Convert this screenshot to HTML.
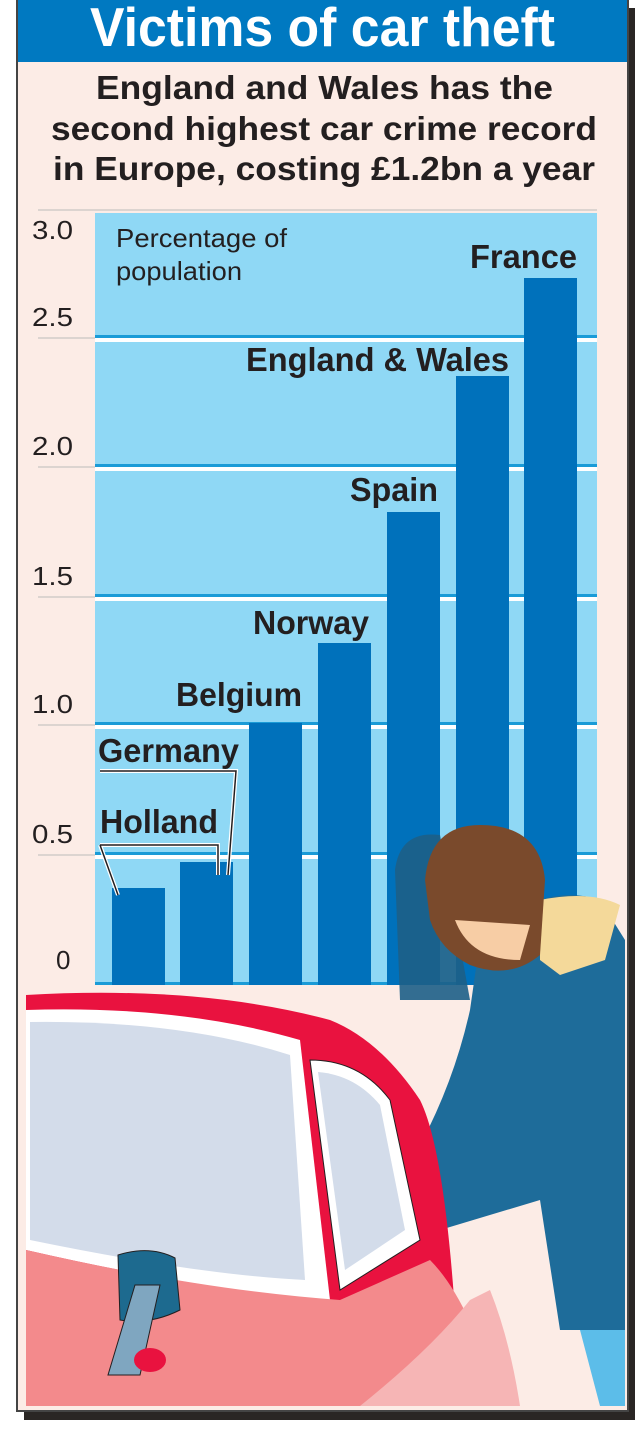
<!DOCTYPE html>
<html><head><meta charset="utf-8"><style>
body{margin:0;background:#fff;width:635px;height:1439px;overflow:hidden;font-family:"Liberation Sans",sans-serif}
</style></head><body>
<svg width="635" height="1439" viewBox="0 0 635 1439" xmlns="http://www.w3.org/2000/svg" font-family="Liberation Sans, sans-serif">
<rect x="24" y="8" width="611" height="1412" fill="#2a2624"/>
<rect x="17" y="0" width="611" height="1411" fill="#fcece6" stroke="#444" stroke-width="2"/>
<rect x="18" y="0" width="609" height="62" fill="#0079c1"/>
<text x="90" y="46" font-size="55" font-weight="bold" fill="#fff" textLength="465" lengthAdjust="spacingAndGlyphs">Victims of car theft</text>
<g font-size="33" font-weight="bold" fill="#231f20">
<text x="96" y="99" textLength="457" lengthAdjust="spacingAndGlyphs">England and Wales has the</text>
<text x="51" y="140" textLength="546" lengthAdjust="spacingAndGlyphs">second highest car crime record</text>
<text x="53" y="180" textLength="542" lengthAdjust="spacingAndGlyphs">in Europe, costing £1.2bn a year</text>
</g>
<rect x="95" y="213" width="502" height="772" fill="#8fd8f5"/>
<g stroke="#bbb" stroke-width="1">
<line x1="38" y1="210" x2="597" y2="210"/><line x1="38" y1="338" x2="95" y2="338"/>
<line x1="38" y1="467" x2="95" y2="467"/><line x1="38" y1="597" x2="95" y2="597"/>
<line x1="38" y1="725" x2="95" y2="725"/><line x1="38" y1="855" x2="95" y2="855"/>
</g>
<g>
<rect x="95" y="335" width="502" height="3" fill="#1a9bd7"/><rect x="95" y="338" width="502" height="4" fill="#fff"/>
<rect x="95" y="464" width="502" height="3" fill="#1a9bd7"/><rect x="95" y="467" width="502" height="4" fill="#fff"/>
<rect x="95" y="594" width="502" height="3" fill="#1a9bd7"/><rect x="95" y="597" width="502" height="4" fill="#fff"/>
<rect x="95" y="722" width="502" height="3" fill="#1a9bd7"/><rect x="95" y="725" width="502" height="4" fill="#fff"/>
<rect x="95" y="852" width="502" height="3" fill="#1a9bd7"/><rect x="95" y="855" width="502" height="4" fill="#fff"/>
<rect x="95" y="982" width="502" height="3" fill="#1a9bd7"/>
</g>
<g font-size="26" fill="#231f20">
<text x="32" y="239" textLength="41" lengthAdjust="spacingAndGlyphs">3.0</text>
<text x="32" y="326" textLength="41" lengthAdjust="spacingAndGlyphs">2.5</text>
<text x="32" y="455" textLength="41" lengthAdjust="spacingAndGlyphs">2.0</text>
<text x="32" y="585" textLength="41" lengthAdjust="spacingAndGlyphs">1.5</text>
<text x="32" y="713" textLength="41" lengthAdjust="spacingAndGlyphs">1.0</text>
<text x="32" y="843" textLength="41" lengthAdjust="spacingAndGlyphs">0.5</text>
<text x="56" y="969">0</text>
<text x="116" y="247" textLength="171" lengthAdjust="spacingAndGlyphs">Percentage of</text>
<text x="116" y="280" textLength="126" lengthAdjust="spacingAndGlyphs">population</text>
</g>
<g fill="#0071bb">
<rect x="112" y="888" width="53" height="97"/><rect x="180" y="862" width="53" height="123"/>
<rect x="249" y="723" width="53" height="262"/><rect x="318" y="643" width="53" height="342"/>
<rect x="387" y="512" width="53" height="473"/><rect x="456" y="376" width="53" height="609"/>
<rect x="524" y="278" width="53" height="707"/>
</g>
<g font-size="33" font-weight="bold" fill="#231f20">
<text x="100" y="833" textLength="118" lengthAdjust="spacingAndGlyphs">Holland</text>
<text x="98" y="762" textLength="141" lengthAdjust="spacingAndGlyphs">Germany</text>
<text x="176" y="706" textLength="126" lengthAdjust="spacingAndGlyphs">Belgium</text>
<text x="253" y="634" textLength="116" lengthAdjust="spacingAndGlyphs">Norway</text>
<text x="350" y="501" textLength="88" lengthAdjust="spacingAndGlyphs">Spain</text>
<text x="246" y="371" textLength="263" lengthAdjust="spacingAndGlyphs">England &amp; Wales</text>
<text x="470" y="268" textLength="107" lengthAdjust="spacingAndGlyphs">France</text>
</g>
<g fill="none" stroke="#fff" stroke-width="4"><path d="M100 845 H218 V875 M100 845 L118 895"/><path d="M100 771 H236 L228 875"/></g>
<g fill="none" stroke="#231f20" stroke-width="1.5"><path d="M100 845 H218 V875 M100 845 L118 895"/><path d="M100 771 H236 L228 875"/></g>
<path d="M395 870 Q400 830 440 835 L470 1000 L400 1000 Z" fill="#1d5f87" opacity="0.9"/>
<path d="M480 940 Q540 880 600 900 L625 940 L625 1330 L560 1330 L540 1200 L440 1230 L400 1180 Q450 1100 470 1010 Z" fill="#1e6c9a"/>
<path d="M580 1330 H625 V1406 H600 Z" fill="#5cbde9"/>
<path d="M540 900 Q590 890 620 905 L605 960 L560 975 L540 960 Z" fill="#f4d99a"/>
<path d="M425 880 Q430 825 480 825 Q540 825 545 880 L540 955 Q510 980 470 965 Q440 950 430 920 Z" fill="#7a4a2c"/>
<path d="M455 920 Q470 960 520 960 L530 925 Z" fill="#f7cda5"/>
<path d="M385 1245 Q400 1225 425 1228 Q445 1245 440 1275 Q420 1290 400 1280 Z" fill="#f7cda5" stroke="#231f20"/>
<path d="M26 995 Q200 985 330 1020 Q380 1040 420 1100 Q450 1160 460 1406 H26 Z" fill="#e9123f"/>
<path d="M26 1010 Q180 1005 300 1040 L330 1300 Q200 1290 26 1250 Z" fill="#fff"/>
<path d="M30 1022 Q180 1020 290 1055 L305 1280 Q200 1275 30 1240 Z" fill="#d3dcea"/>
<path d="M310 1060 Q360 1060 390 1100 L420 1240 L340 1290 Z" fill="#fff" stroke="#231f20"/>
<path d="M318 1072 Q355 1075 380 1105 L405 1230 L345 1270 Z" fill="#d3dcea"/>
<path d="M26 1250 Q200 1290 340 1300 L430 1260 Q470 1300 500 1406 H26 Z" fill="#f38a8c"/>
<path d="M470 1300 Q430 1350 360 1406 H520 Q510 1340 490 1290 Z" fill="#f6b5b5"/>
<path d="M118 1255 Q150 1245 175 1258 L180 1310 Q150 1325 120 1320 Z" fill="#1d6a8f" stroke="#231f20"/>
<path d="M135 1285 L160 1285 L140 1375 L108 1375 Z" fill="#7fa6c0" stroke="#231f20"/>
<ellipse cx="150" cy="1360" rx="16" ry="12" fill="#e9123f"/>
<rect x="26" y="1406" width="600" height="4" fill="#fcece6"/>
</svg>
</body></html>
